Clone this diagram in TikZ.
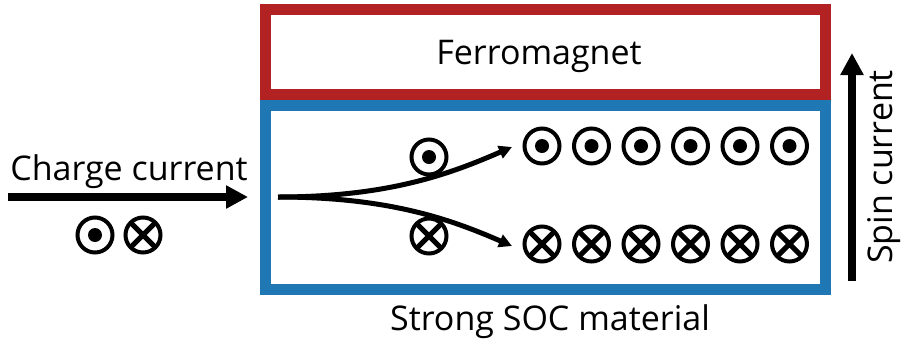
\documentclass[tikz,border=0pt]{standalone}
\usepackage{fontspec}
\setmainfont{Open Sans}
\usetikzlibrary{arrows.meta}
\definecolor{fmred}{RGB}{178,34,34}
\definecolor{socblue}{RGB}{31,119,180}
\begin{document}
\begin{tikzpicture}[x=1pt,y=-1pt,
  layer/.style={draw, line width=11pt, minimum width=560pt, inner sep=0pt},
  lbl/.style={anchor=base, font=\fontsize{34}{40}\selectfont, inner sep=0pt},
  spinbase/.style={circle, draw, line width=4pt, minimum size=35pt, inner sep=0pt},
  spinup/.style={spinbase, path picture={\fill (path picture bounding box.center) circle (7pt);}},
  spindown/.style={spinbase, path picture={\draw[line width=5pt]
      (path picture bounding box.north west) -- (path picture bounding box.south east)
      (path picture bounding box.north east) -- (path picture bounding box.south west);}},
  bigarrow/.style={line width=8pt, -{Triangle[length=22pt,width=22pt]}},
  deflect/.style={line width=5pt, -{Triangle[length=13pt,width=13pt]}}]
\useasboundingbox (0,0) rectangle (902,341);

% layer stack
\node[layer, draw=fmred, minimum height=85pt] (fm) at (545.5,52) {};
\node[layer, draw=socblue, minimum height=184pt] (soc) at (545.5,197.5) {};

% labels
\node[lbl] (fmlabel) at (539,64) {Ferromagnet};
\node[lbl] (soclabel) at (550,330) {Strong SOC material};
\node[lbl] (chlabel) at (129,180) {Charge current};
\node[lbl, rotate=90] (splabel) at (892,167) {Spin current};

% charge and spin current arrows
\coordinate (chstart) at (8,197);
\coordinate (chend) at (248,197);
\draw[bigarrow] (chstart) -- (chend);
\coordinate (spstart) at (852,281);
\coordinate (spend) at (852,53);
\draw[bigarrow] (spstart) -- (spend);

% unpolarised spins of the charge current
\node[spinup] (cu) at (95,235) {};
\node[spindown] (cd) at (143,235) {};

% spin Hall deflection
\coordinate (split) at (278,197);
\coordinate (uptip) at (512,147);
\coordinate (dntip) at (512,246);
\draw[deflect] (split) .. controls (390,197) and (452,173) .. (uptip);
\draw[deflect] (split) .. controls (390,197) and (452,220) .. (dntip);
\node[spinup] (lu) at (429,157) {};
\node[spindown] (ld) at (429,236) {};

% accumulated spins
\foreach \i in {0,...,5} {
  \node[spinup] (up\i) at (542+49.5*\i,146) {};
  \node[spindown] (dn\i) at (542+49.5*\i,244) {};
}
\end{tikzpicture}
\end{document}
